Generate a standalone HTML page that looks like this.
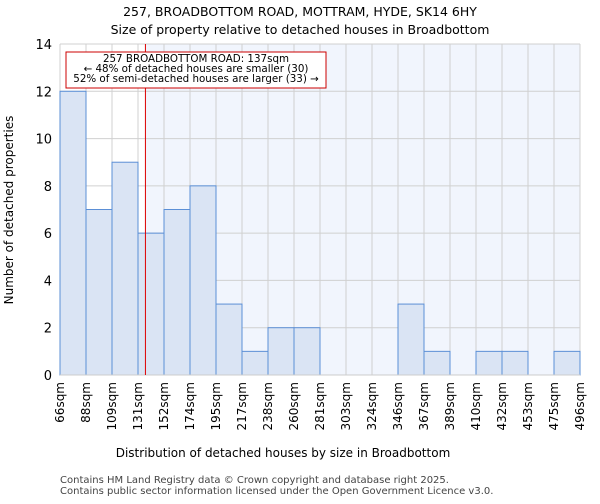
<!DOCTYPE html>
<html><head><meta charset="utf-8"><style>
body{margin:0;background:#fff;font-family:"DejaVu Sans","Liberation Sans",sans-serif;}
</style></head><body>
<svg id="chart" width="600" height="500" xmlns="http://www.w3.org/2000/svg" font-family="DejaVu Sans, Liberation Sans, sans-serif">
<text x="300" y="16" text-anchor="middle" font-size="12.5">257, BROADBOTTOM ROAD, MOTTRAM, HYDE, SK14 6HY</text>
<text x="300" y="34" text-anchor="middle" font-size="12.5">Size of property relative to detached houses in Broadbottom</text>
<g id="plot"></g>
<text x="283" y="457" text-anchor="middle" font-size="12">Distribution of detached houses by size in Broadbottom</text>
<text transform="translate(13,210) rotate(-90)" text-anchor="middle" font-size="12">Number of detached properties</text>
<text x="60" y="483" font-size="10" fill="#444">Contains HM Land Registry data © Crown copyright and database right 2025.</text>
<text x="60" y="494" font-size="10" fill="#444">Contains public sector information licensed under the Open Government Licence v3.0.</text>
</svg>
<script>
const binEdges=[66,88,109,131,152,174,195,217,238,260,281,303,324,346,367,389,410,432,453,475,496];
const counts=[12,7,9,6,7,8,3,1,2,2,0,0,0,3,1,0,1,1,0,1];
const yTicks=[0,2,4,6,8,10,12,14];
const subjectSize=137;
const NS="http://www.w3.org/2000/svg";
const X0=60,X1=580,Y0=375,Y1=44,YMAX=14;
const nb=counts.length;
const bw=(X1-X0)/nb;
function xIdx(i){return X0+i*bw;}
function xVal(v){for(let i=0;i<binEdges.length-1;i++){if(v<=binEdges[i+1]){return xIdx(i)+(v-binEdges[i])/(binEdges[i+1]-binEdges[i])*bw;}}return X1;}
function y(v){return Y0-(v/YMAX)*(Y0-Y1);}
const g=document.getElementById('plot');
function mk(t,a){const e=document.createElementNS(NS,t);for(const k in a)e.setAttribute(k,a[k]);g.appendChild(e);return e;}
const lx=xVal(subjectSize);
let e=mk('rect',{x:lx,y:Y1,width:X1-lx,height:Y0-Y1,fill:'#f1f5fd'});


for(let i=0;i<binEdges.length;i++){e=mk('line',{x1:xIdx(i),x2:xIdx(i),y1:Y1,y2:Y0,stroke:'#d0d0d0','stroke-width':1});

}
yTicks.forEach(t=>{e=mk('line',{x1:X0,x2:X1,y1:y(t),y2:y(t),stroke:'#d0d0d0','stroke-width':1});


e=mk('text',{x:X0-8,y:y(t)+5,'text-anchor':'end','font-size':'13'});e.textContent=t;

});
counts.forEach((c,i)=>{if(c<=0)return;e=mk('rect',{x:xIdx(i),y:y(c),width:bw,height:Y0-y(c),fill:'#dae4f4',stroke:'#5b8fd6','stroke-width':1});

});
e=mk('line',{x1:X0,x2:X1,y1:Y0,y2:Y0,stroke:'#ccc'});


binEdges.forEach((b,i)=>{const xx=xIdx(i)+4;e=mk('text',{transform:`translate(${xx},382) rotate(-90)`,'text-anchor':'end','font-size':'12'});e.textContent=b+'sqm';

});
e=mk('line',{x1:lx,x2:lx,y1:Y1,y2:Y0,stroke:'#dd0000','stroke-width':1});


e=mk('rect',{x:66,y:52,width:260,height:36,fill:'#fff',stroke:'#cc0000','stroke-width':1});


const lines=['257 BROADBOTTOM ROAD: '+subjectSize+'sqm','← 48% of detached houses are smaller (30)','52% of semi-detached houses are larger (33) →'];
lines.forEach((l,i)=>{e=mk('text',{x:196,y:62+i*10,'text-anchor':'middle','font-size':'10.3'});e.textContent=l;

});
</script>
</body></html>
